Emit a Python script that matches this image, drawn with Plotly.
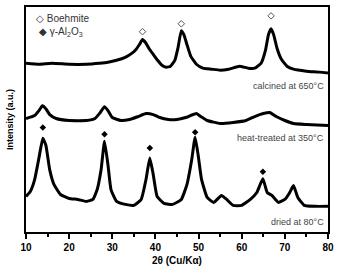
import plotly.graph_objects as go

# 2-theta (deg) and intensity (a.u.)
x_calc = [10, 13, 16, 20, 24, 27, 29, 31, 33, 34.5, 35.5, 36.3, 37.0, 37.7, 38.5, 39.5, 40.5, 41.5, 42.5, 43.5, 44.5, 45.2, 46.0, 46.6, 47.3, 48.2, 49.5, 51, 53, 55, 57, 59.5, 61.5, 63, 64.5, 65.5, 66.2, 66.8, 67.4, 68.2, 69.2, 70.5, 72, 75, 78, 80]
y_calc = [171, 170, 171, 170, 170, 171, 172, 174, 177, 181, 185, 190, 195, 192, 186, 180, 174, 169, 167, 168, 174, 186, 204, 200, 190, 178, 170, 166, 165, 164, 165, 168, 166, 166, 171, 184, 200, 206, 200, 186, 175, 168, 165, 163, 162, 161]

x_heat = [10, 12, 13, 13.8, 14.6, 15.5, 17, 20, 24, 26, 27.2, 28.2, 29, 30, 32, 34, 36, 37.8, 39.5, 41, 43, 45, 47, 49.5, 50.5, 52, 55, 58, 61, 63, 65, 66.5, 68, 70, 72, 75, 80]
y_heat = [115, 118, 123, 128, 125, 119, 115, 113, 113, 115, 121, 127, 123, 116, 113, 114, 117, 120, 119, 116, 114, 114, 116, 120, 117, 113, 110, 111, 113, 117, 120, 121, 117, 113, 110, 109, 108]

x_dried = [10, 11, 12, 13, 13.9, 14.6, 15.5, 16.5, 18, 20, 22, 24, 25.5, 26.5, 27.4, 28.2, 29, 29.7, 31, 33, 35, 36.7, 37.8, 38.7, 39.5, 40.4, 42, 44, 46, 47.3, 48.4, 49.2, 49.9, 50.7, 52, 53.5, 55.3, 56.5, 58, 60, 62, 63.5, 64.9, 65.9, 67, 68.5, 70, 71, 72, 73, 74.5, 77, 80]
y_dried = [36, 41, 53, 75, 95, 88, 63, 48, 38, 34, 33, 31, 33, 43, 63, 92, 68, 43, 31, 28, 27, 33, 53, 75, 58, 36, 29, 28, 33, 48, 73, 96, 78, 53, 35, 30, 37, 33, 27, 27, 33, 40, 54, 40, 37, 30, 33, 39, 47, 35, 27, 26, 26]

# phase markers
x_boeh = [37.0, 46.0, 66.8]
y_boeh = [203, 211, 219]
x_gam = [13.9, 28.2, 38.7, 49.2, 64.9]
y_gam = [106, 99, 85, 101, 61]

sample_labels = ["calcined at 650°C", "heat-treated at 350°C", "dried at 80°C"]
label_y = [148, 95, 10]

x_ticks = [10, 20, 30, 40, 50, 60, 70, 80]

FONT = "Liberation Sans, Arial"

fig = go.Figure()
for xs, ys in [(x_calc, y_calc), (x_heat, y_heat), (x_dried, y_dried)]:
    fig.add_trace(go.Scatter(x=xs, y=ys, mode="lines",
                             line=dict(color="black", width=3, shape="spline", smoothing=0.4),
                             showlegend=False, hoverinfo="skip"))
fig.add_trace(go.Scatter(x=x_boeh, y=y_boeh, mode="markers",
                         marker=dict(symbol="diamond-open", size=5, color="#555", line=dict(width=1)),
                         showlegend=False))
fig.add_trace(go.Scatter(x=x_gam, y=y_gam, mode="markers",
                         marker=dict(symbol="diamond", size=5, color="black"),
                         showlegend=False))

for t, yv in zip(sample_labels, label_y):
    fig.add_annotation(x=79.5, y=yv, text=t, showarrow=False, xanchor="right", yanchor="middle",
                       font=dict(family=FONT, size=9, color="#444"))

fig.add_annotation(x=0.025, y=0.95, xref="paper", yref="paper", text="◇ Boehmite", showarrow=False,
                   xanchor="left", yanchor="middle",
                   font=dict(family=FONT, size=10, color="#333"))
fig.add_annotation(x=0.035, y=0.89, xref="paper", yref="paper", text="◆ γ-Al<sub>2</sub>O<sub>3</sub>",
                   showarrow=False, xanchor="left", yanchor="middle",
                   font=dict(family=FONT, size=10, color="#333"))

fig.update_layout(
    width=339, height=270,
    margin=dict(l=26, r=6, t=5, b=37),
    paper_bgcolor="white", plot_bgcolor="white",
    font=dict(family=FONT, color="black"),
    xaxis=dict(range=[10, 80], tickvals=x_ticks, ticktext=[str(v) for v in x_ticks],
               ticks="outside", ticklen=5, tickwidth=1.5, tickcolor="black",
               minor=dict(tickvals=[15, 25, 35, 45, 55, 65, 75], ticks="outside", ticklen=3, tickcolor="black"),
               showline=True, linecolor="black", linewidth=1.5, mirror=True, showgrid=False, zeroline=False,
               tickfont=dict(size=10, family=FONT, weight="bold"),
               title=dict(text="<b>2θ (Cu/Kα)</b>", font=dict(size=10), standoff=5)),
    yaxis=dict(range=[0, 228], showticklabels=False, ticks="", showline=True, linecolor="black",
               linewidth=1.5, mirror=True, showgrid=False, zeroline=False,
               title=dict(text="<b>Intensity (a.u.)</b>", font=dict(size=9), standoff=9)),
)

fig.write_html("out.html")
